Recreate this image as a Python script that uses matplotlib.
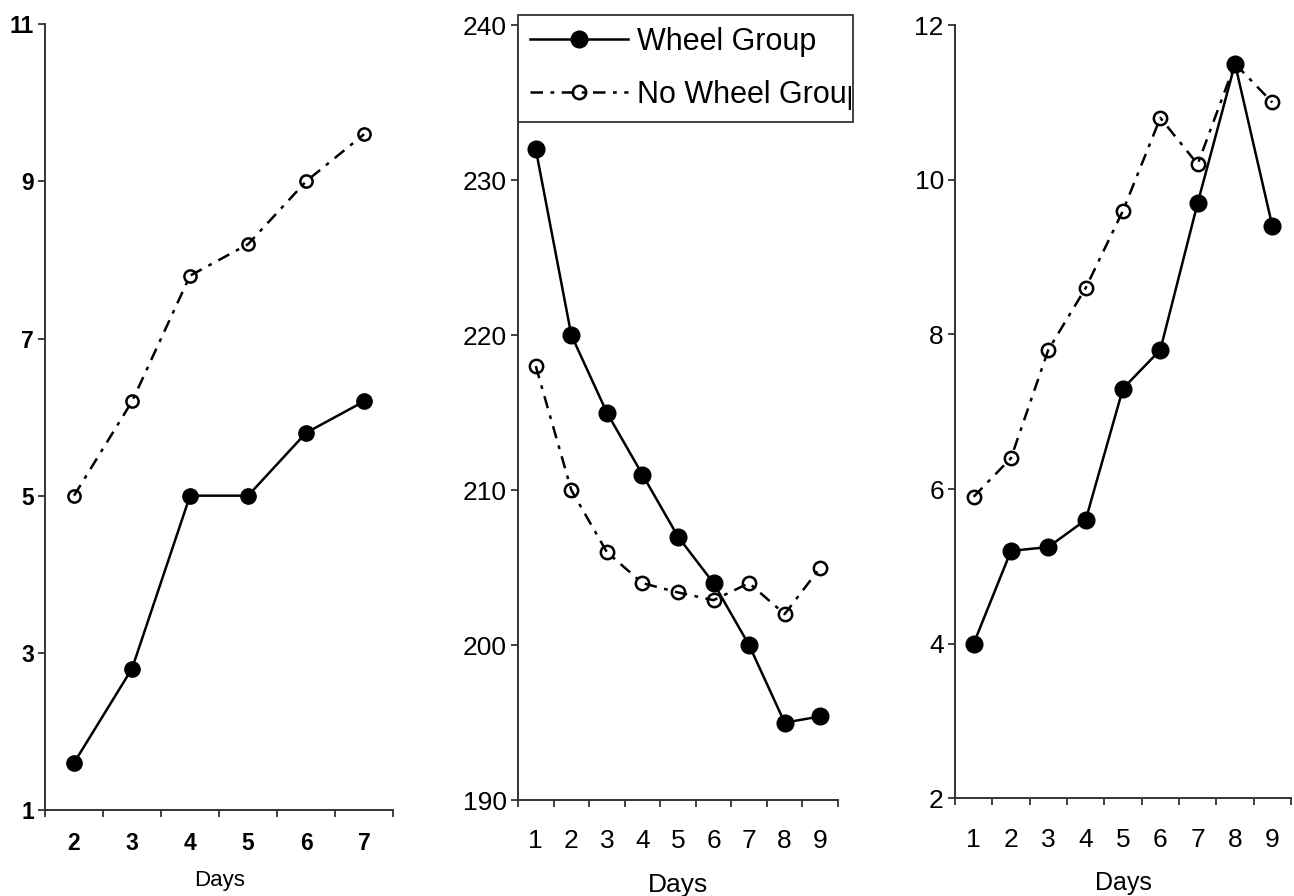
import matplotlib.pyplot as plt
from matplotlib.transforms import Bbox, TransformedBbox

plt.rcParams['font.family'] = ['Liberation Sans', 'DejaVu Sans']

# panel A
days_a = [2, 3, 4, 5, 6, 7]
wheel_a = [1.6, 2.8, 5.0, 5.0, 5.8, 6.2]
nowheel_a = [5.0, 6.2, 7.8, 8.2, 9.0, 9.6]

# panel B
days_b = [1, 2, 3, 4, 5, 6, 7, 8, 9]
wheel_b = [232, 220, 215, 211, 207, 204, 200, 195, 195.4]
nowheel_b = [218, 210, 206, 204, 203.4, 202.9, 204, 202, 205]

# panel C
days_c = [1, 2, 3, 4, 5, 6, 7, 8, 9]
wheel_c = [4.0, 5.2, 5.25, 5.6, 7.3, 7.8, 9.7, 11.5, 9.4]
nowheel_c = [5.9, 6.4, 7.8, 8.6, 9.6, 10.8, 10.2, 11.5, 11.0]

labels = ["Wheel Group", "No Wheel Group"]
dashdot = (0, (5, 3, 1.5, 3))


def panel(ax, days, wheel, nowheel, ylim, yticks, fs, days_fs, ms,
          weight='normal', xpad=16, labelpad=10):
    xs = list(range(len(days)))
    l2, = ax.plot(xs, nowheel, color='black', lw=1.8, linestyle=dashdot,
                  marker='o', ms=ms * 0.8, mfc='none', mew=1.8)
    l1, = ax.plot(xs, wheel, color='black', lw=1.8, linestyle='-',
                  marker='o', ms=ms, mfc='black', mec='black')
    ax.set_xlim(-0.5, len(days) - 0.5)
    ax.set_ylim(*ylim)
    ax.set_yticks(yticks)
    ax.set_yticklabels([str(t) for t in yticks], fontsize=fs,
                       fontweight=weight)
    ax.set_xticks([i - 0.5 for i in range(len(days) + 1)])
    ax.set_xticklabels([])
    ax.set_xticks(xs, minor=True)
    ax.set_xticklabels([str(d) for d in days], minor=True, fontsize=fs,
                       fontweight=weight)
    ax.tick_params(axis='x', which='minor', length=0, pad=xpad)
    ax.tick_params(axis='both', which='major', length=5, width=1.3,
                   direction='out', color='#333333')
    ax.tick_params(axis='y', pad=3)
    for s in ['top', 'right']:
        ax.spines[s].set_visible(False)
    for s in ['left', 'bottom']:
        ax.spines[s].set_linewidth(1.4)
        ax.spines[s].set_color('#333333')
    ax.set_xlabel("Days", fontsize=days_fs, labelpad=labelpad)
    for l in (l1, l2):
        l.set_clip_on(False)
    return l1, l2


fig = plt.figure(figsize=(12.94, 8.96), dpi=100)
ax1 = fig.add_axes([0.0348, 0.096, 0.269, 0.877])
ax2 = fig.add_axes([0.4003, 0.107, 0.2473, 0.865])
ax3 = fig.add_axes([0.738, 0.109, 0.2597, 0.863])

panel(ax1, days_a, wheel_a, nowheel_a, (1, 11), [1, 3, 5, 7, 9, 11], 16.5, 16, 11,
      weight='bold', xpad=16, labelpad=11)
h1, h2 = panel(ax2, days_b, wheel_b, nowheel_b, (190, 240),
               [190, 200, 210, 220, 230, 240], 19, 19, 12, xpad=21, labelpad=14)
panel(ax3, days_c, wheel_c, nowheel_c, (2, 12), [2, 4, 6, 8, 10, 12], 19, 18, 12,
      xpad=21, labelpad=14)

# legend box sits at top of middle panel, text clipped at its right edge
x0, y0 = 518 / 1294, 1 - 122 / 896
w, h = (853 - 518) / 1294, 110 / 896
leg = fig.legend([h1, h2], labels, loc='lower left',
                 bbox_to_anchor=(x0, y0, w, h), bbox_transform=fig.transFigure,
                 mode='expand', fontsize=22, handlelength=3.2, handletextpad=0.3,
                 labelspacing=0.75, borderpad=0.4, borderaxespad=0,
                 fancybox=False, framealpha=1, edgecolor='#333333')
leg.get_frame().set_linewidth(1.3)
clip = TransformedBbox(Bbox([[x0, y0], [x0 + w - 0.0015, y0 + h]]),
                       fig.transFigure)
for t in leg.get_texts():
    t.set_clip_box(clip)
    t.set_clip_on(True)

fig.savefig("out.png", dpi=100)
